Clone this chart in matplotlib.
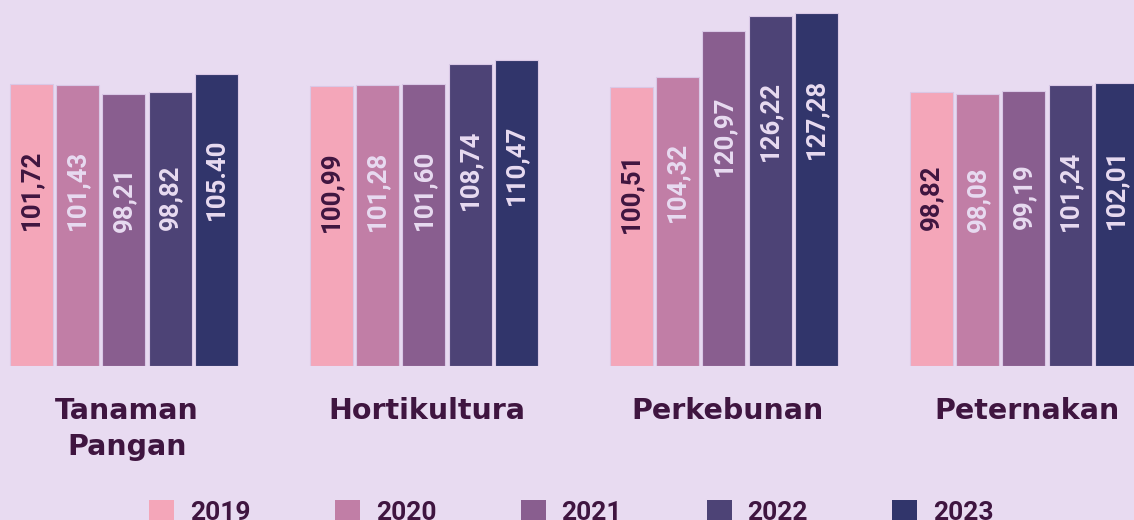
import matplotlib
matplotlib.use("Agg")
import matplotlib.pyplot as plt
import numpy as np
from matplotlib.patches import Patch

categories = ["Tanaman\nPangan", "Hortikultura", "Perkebunan", "Peternakan"]
years = ["2019", "2020", "2021", "2022", "2023"]
v2019 = [101.72, 100.99, 100.51, 98.82]
v2020 = [101.43, 101.28, 104.32, 98.08]
v2021 = [98.21, 101.60, 120.97, 99.19]
v2022 = [98.82, 108.74, 126.22, 101.24]
v2023 = [105.40, 110.47, 127.28, 102.01]
labels = [
    ["101,72", "100,99", "100,51", "98,82"],
    ["101,43", "101,28", "104,32", "98,08"],
    ["98,21", "101,60", "120,97", "99,19"],
    ["98,82", "108,74", "126,22", "101,24"],
    ["105.40", "110,47", "127,28", "102,01"],
]

BG = "#E8DBF1"
DARK = "#3F1540"
colors = ["#F4A6B9", "#C17EA6", "#895E8F", "#4D4376", "#31356B"]
label_colors = [DARK, BG, BG, BG, BG]

fig = plt.figure(figsize=(11.34, 5.2), dpi=100, facecolor=BG)
ax = fig.add_axes([0, 1 - 366 / 520, 1, 366 / 520])
ax.set_facecolor(BG)

series = [v2019, v2020, v2021, v2022, v2023]
x = np.arange(len(categories))
step = 0.1543
width = 0.143
for i, vals in enumerate(series):
    pos = x + (i - 2) * step
    ax.bar(pos, vals, width=width, color=colors[i], edgecolor="#D9C8E6",
           linewidth=0.8, zorder=2)
    for p, v, t in zip(pos, vals, labels[i]):
        ax.text(p, v - 38, t, rotation=90, ha="center", va="center",
                fontsize=18.5, fontweight="bold", color=label_colors[i],
                family=["Roboto", "DejaVu Sans"], zorder=3)

ax.set_xlim(-0.413, 3.367)
ax.set_ylim(0, 132)
ax.axis("off")

# category names under the groups
for xi, name in zip(x, categories):
    fig.text((127 + 300 * xi) / 1134, 1 - 397 / 520, name, ha="center", va="top",
             fontsize=20.5, fontweight="bold", color=DARK,
             family=["DejaVu Sans"], linespacing=1.35)

handles = [Patch(facecolor=c, edgecolor="none") for c in colors]
leg = fig.legend(handles, years, loc="upper left",
                 bbox_to_anchor=(149 / 1134, 1 - 500 / 520), ncol=5,
                 frameon=False, borderpad=0, borderaxespad=0,
                 handlelength=0.95, handleheight=0.9,
                 handletextpad=0.6, columnspacing=3.2,
                 prop={"family": ["Roboto", "DejaVu Sans"],
                       "weight": "bold", "size": 19})
for t in leg.get_texts():
    t.set_color(DARK)

fig.savefig("out.png", dpi=100, facecolor=BG)
